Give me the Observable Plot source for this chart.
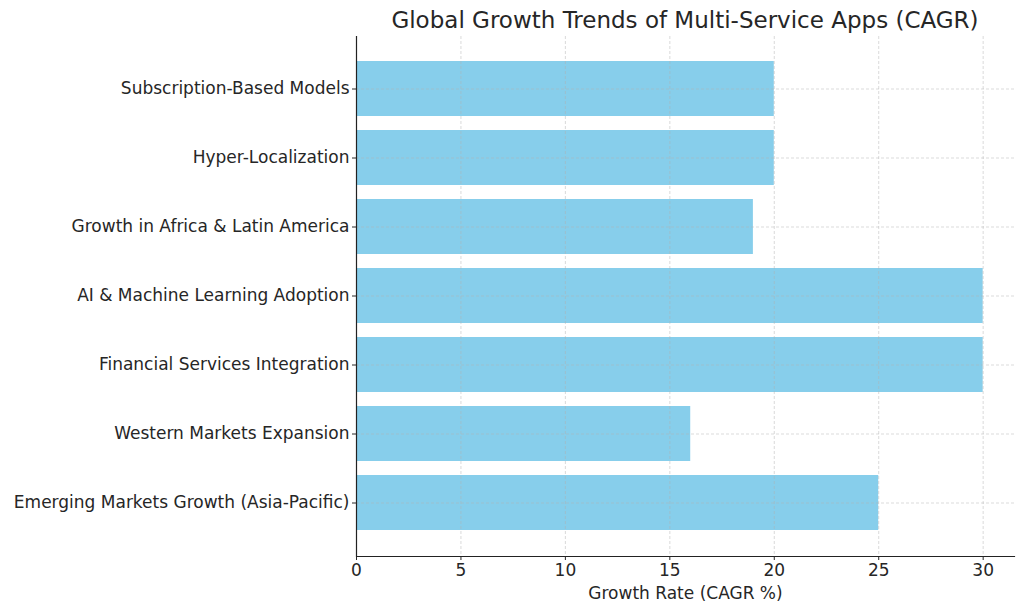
<!DOCTYPE html>
<html>
<head>
<meta charset="utf-8">
<script src="https://cdn.jsdelivr.net/npm/d3@7"></script>
<script src="https://cdn.jsdelivr.net/npm/@observablehq/plot@0.6"></script>
<style>
  body { margin: 0; background: #fff; font-family: "DejaVu Sans", sans-serif; }
  #title { height: 30px; line-height: 40px; padding-left: 356px; width: 658px; text-align: center; font-size: 23px; color: #262626; white-space: nowrap; }
</style>
</head>
<body>
<div id="title">Global Growth Trends of Multi-Service Apps (CAGR)</div>
<div id="chart"></div>
<script>
const categories = [
  "Subscription-Based Models",
  "Hyper-Localization",
  "Growth in Africa & Latin America",
  "AI & Machine Learning Adoption",
  "Financial Services Integration",
  "Western Markets Expansion",
  "Emerging Markets Growth (Asia-Pacific)"
];
const values = [20, 20, 19, 30, 30, 16, 25];
const xTicks = [0, 5, 10, 15, 20, 25, 30];

const data = categories.map((c, i) => ({category: c, value: values[i]}));

const chart = Plot.plot({
  width: 1024,
  height: 581,
  marginTop: 6,
  marginBottom: 55,
  marginLeft: 356,
  marginRight: 10,
  style: {fontFamily: "DejaVu Sans, sans-serif", fontSize: "17px", color: "#262626", background: "#fff"},
  x: {domain: [0, 31.5], ticks: xTicks, label: "Growth Rate (CAGR %)", labelAnchor: "center", labelArrow: "none"},
  y: {domain: categories, paddingInner: 0.2, paddingOuter: 0.33, label: null},
  marks: [
    Plot.barX(data, {y: "category", x: "value", fill: "#87CEEB"}),
    Plot.ruleX(xTicks, {stroke: "#b0b0b0", strokeDasharray: "3,2", strokeOpacity: 0.6, strokeWidth: 0.8}),
    Plot.ruleY(categories, {y: d => d, stroke: "#b0b0b0", strokeDasharray: "3,2", strokeOpacity: 0.6, strokeWidth: 0.8}),
    Plot.axisX({ticks: xTicks, tickSize: 4, tickPadding: 3, fontSize: 17, label: "Growth Rate (CAGR %)", labelAnchor: "center", labelOffset: 42, labelArrow: "none"}),
    Plot.axisY({tickSize: 4, tickPadding: 3, fontSize: 17, label: null}),
    Plot.ruleX([0], {stroke: "#222", strokeWidth: 1.2}),
    Plot.frame({anchor: "bottom", stroke: "#222", strokeWidth: 1.2})
  ]
});
document.getElementById("chart").appendChild(chart);
</script>
</body>
</html>
